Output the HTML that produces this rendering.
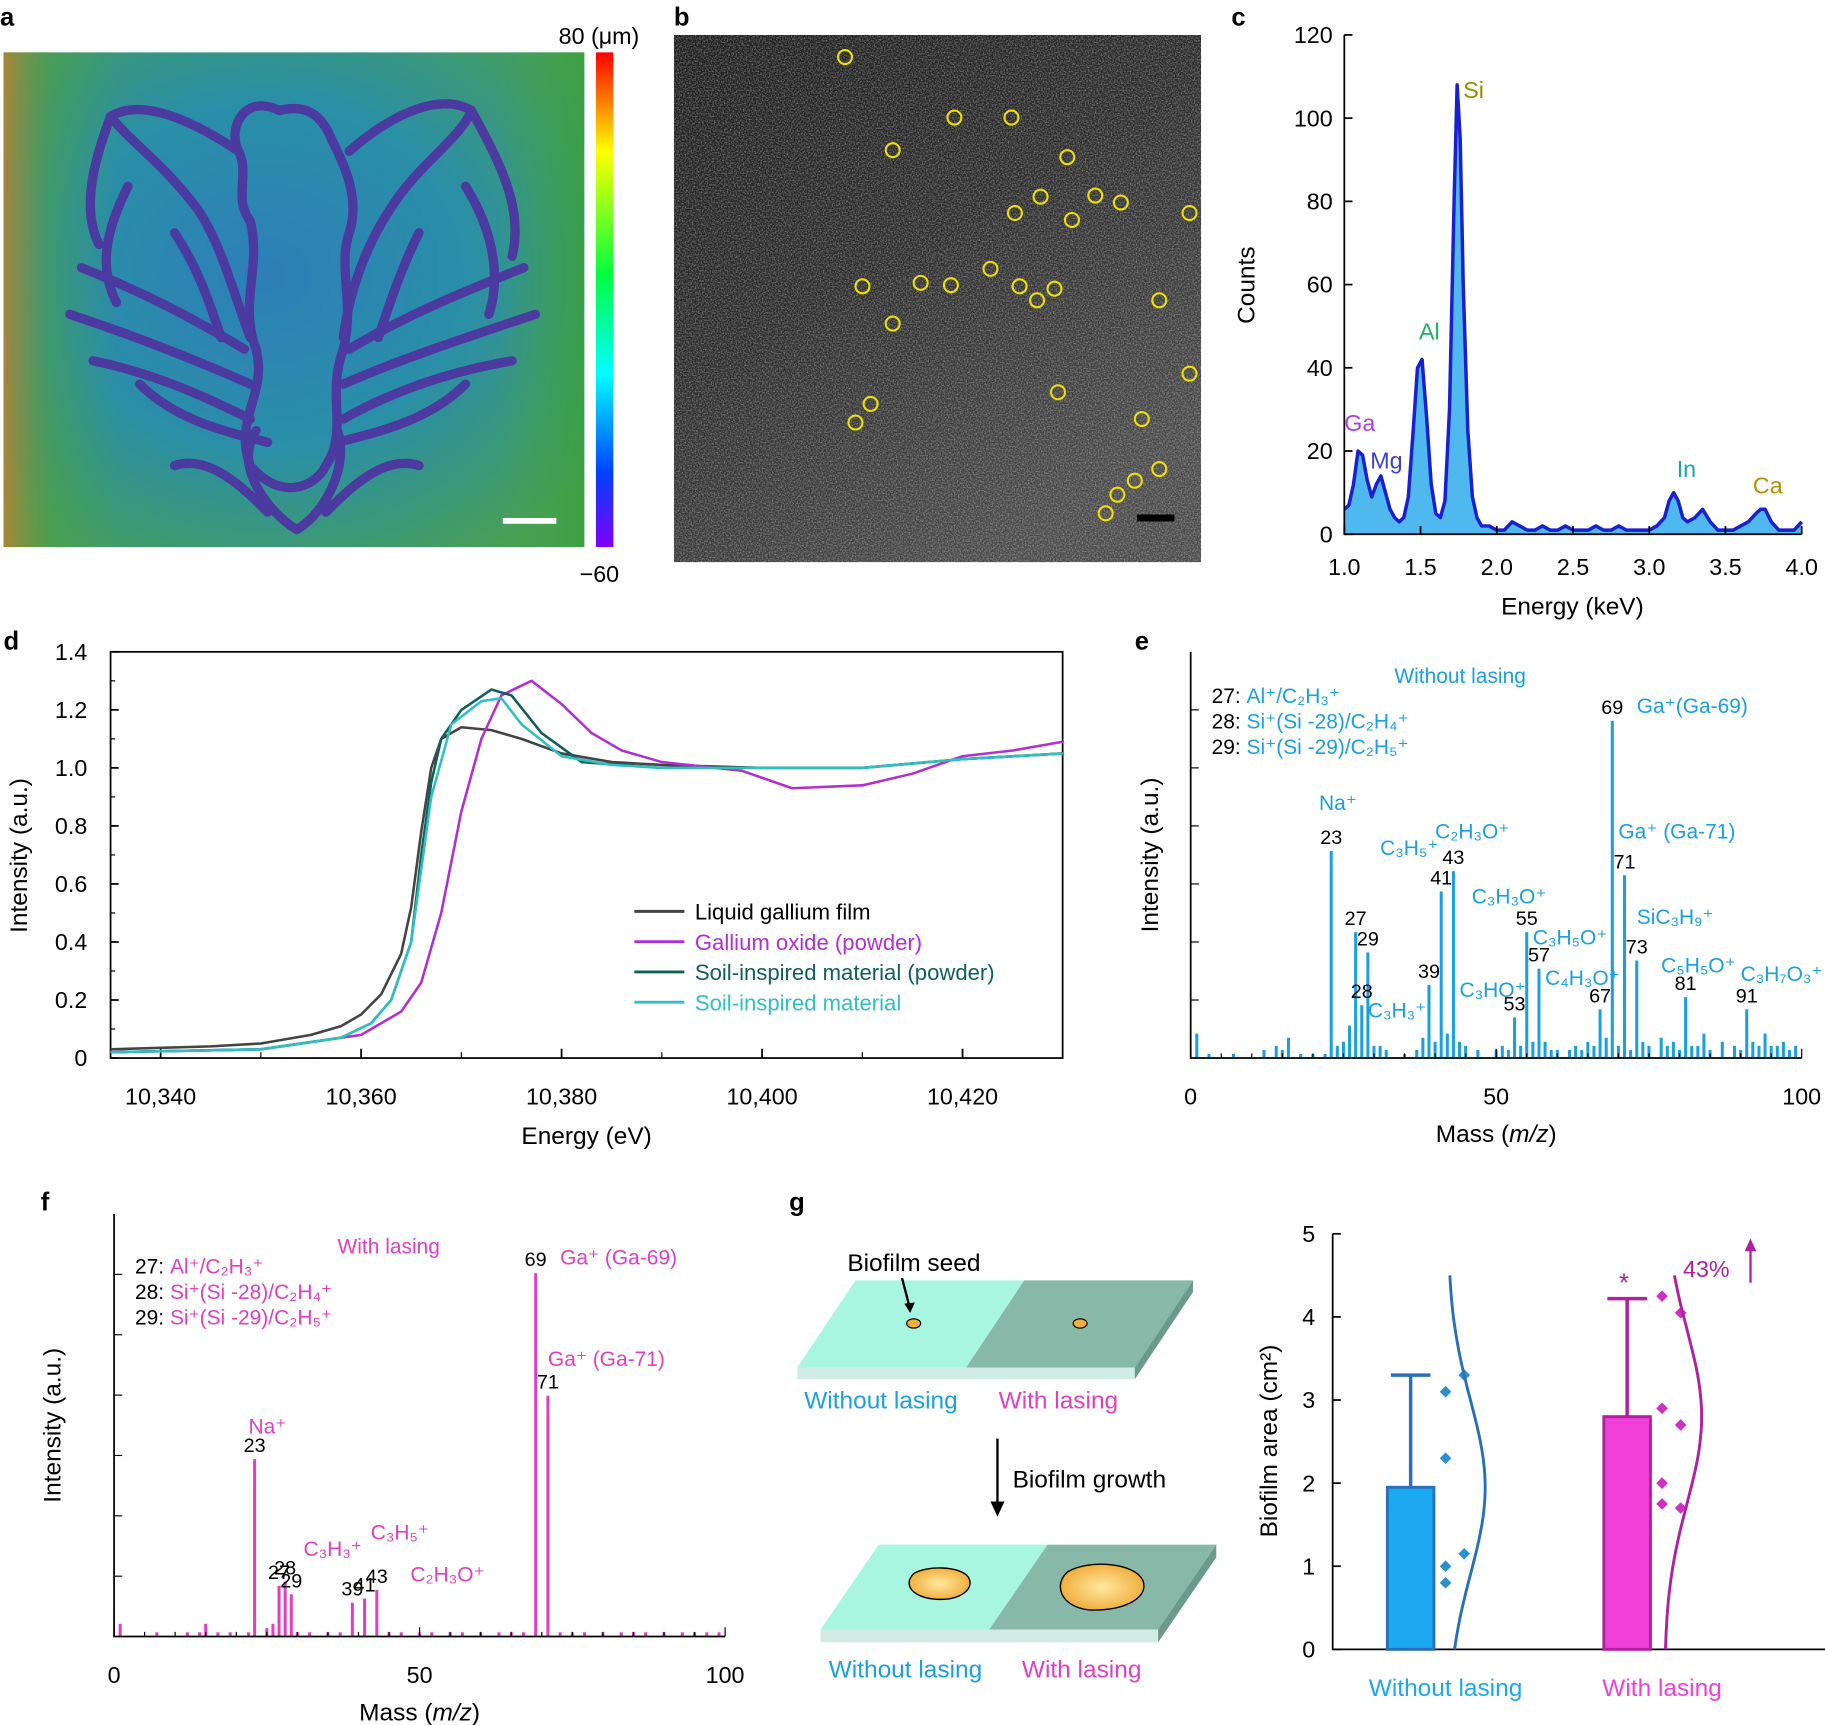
<!DOCTYPE html>
<html><head><meta charset="utf-8"><style>
html,body{margin:0;padding:0;background:#fff}
svg{display:block;font-family:"Liberation Sans",Arial,sans-serif}
</style></head><body>
<svg id="fig" width="1825" height="1725" viewBox="0 0 1568 1482" preserveAspectRatio="none" xmlns="http://www.w3.org/2000/svg">
<defs>
<linearGradient id="cbar" x1="0" y1="0" x2="0" y2="1">
<stop offset="0" stop-color="#ff0000"/><stop offset="0.2" stop-color="#ffff00"/><stop offset="0.45" stop-color="#00ff40"/><stop offset="0.65" stop-color="#00ffff"/><stop offset="0.85" stop-color="#0040ff"/><stop offset="1" stop-color="#8000ff"/>
</linearGradient>
<radialGradient id="ag" cx="0.45" cy="0.45" r="0.7">
<stop offset="0" stop-color="#2d7fb8"/><stop offset="0.5" stop-color="#2a8fa8"/><stop offset="1" stop-color="#4aa050"/>
</radialGradient>
<linearGradient id="ag2" x1="0" y1="0" x2="1" y2="0">
<stop offset="0" stop-color="#c08030" stop-opacity="0.8"/><stop offset="0.08" stop-color="#50a040" stop-opacity="0.5"/><stop offset="0.2" stop-color="#40a050" stop-opacity="0"/><stop offset="0.85" stop-color="#40a050" stop-opacity="0"/><stop offset="1" stop-color="#3aa040" stop-opacity="0.8"/>
</linearGradient>
<filter id="noise" x="0" y="0" width="1" height="1" filterUnits="objectBoundingBox"><feTurbulence type="fractalNoise" baseFrequency="0.8" numOctaves="2" seed="3"/><feColorMatrix type="matrix" values="0 0 0 0 0.75  0 0 0 0 0.75  0 0 0 0 0.75  0 0 0 1.6 -0.6"/></filter>
<linearGradient id="bg" x1="0" y1="0" x2="0.6" y2="1">
<stop offset="0" stop-color="#1c1c1c"/><stop offset="0.5" stop-color="#2c2c2c"/><stop offset="1" stop-color="#4a4a4a"/>
</linearGradient>
<clipPath id="bclip"><rect x="579" y="30" width="453" height="453"/></clipPath>
<radialGradient id="blob"><stop offset="0" stop-color="#ffe9a0"/><stop offset="1" stop-color="#f0b040"/></radialGradient>
</defs>
<g font-size="20" fill="#000">
<text x="0" y="22" font-weight="bold" font-size="22">a</text>
<text x="579" y="22" font-weight="bold" font-size="22">b</text>
<text x="1058" y="22" font-weight="bold" font-size="22">c</text>
<text x="3" y="558" font-weight="bold" font-size="22">d</text>
<text x="975" y="558" font-weight="bold" font-size="22">e</text>
<text x="35" y="1040" font-weight="bold" font-size="22">f</text>
<text x="678" y="1040" font-weight="bold" font-size="22">g</text>
</g>
<g>
<rect x="3" y="45" width="499" height="425" fill="url(#ag)"/>
<rect x="3" y="45" width="499" height="425" fill="url(#ag2)"/>
<g fill="none" stroke="#4b3aa0" stroke-width="8" stroke-linecap="round" stroke-linejoin="round">
<path d="M240 95 C210 80 195 110 205 130 C215 150 200 170 215 190 C225 230 205 260 220 300 C230 340 200 360 215 400 C240 430 270 420 280 400 C300 370 280 340 295 300 C305 260 290 230 300 200 C310 170 295 140 285 120 C275 95 260 90 240 95 Z"/>
<path d="M205 130 C160 100 120 85 95 100 C110 120 140 140 170 180 C190 210 200 250 215 290"/>
<path d="M300 130 C340 95 380 80 405 95 C395 120 360 140 335 180 C315 210 300 250 295 290"/>
<path d="M95 100 C80 140 70 180 85 210 M110 160 C90 200 85 230 100 260 M70 230 C120 250 160 270 210 300 M60 270 C120 290 170 310 215 330 M80 310 C130 320 175 340 215 360"/>
<path d="M405 95 C430 140 450 180 440 220 M400 160 C425 200 430 240 420 270 M450 230 C400 250 350 270 300 300 M460 270 C400 290 340 310 295 330 M440 310 C380 320 330 340 295 360"/>
<path d="M150 200 C170 230 180 260 190 290 M360 200 C345 230 335 260 325 290 M120 330 C150 360 190 370 230 380 M400 330 C370 360 330 370 290 380"/>
<path d="M150 400 C180 390 210 420 230 440 M360 400 C330 390 300 420 280 440 M220 370 C200 400 230 440 255 455 C280 440 300 400 290 370"/>
</g>
<rect x="432" y="445" width="46" height="5" fill="#fff"/>
<rect x="512" y="45" width="15" height="425" fill="url(#cbar)"/>
<text x="480" y="38" font-size="20">80 (μm)</text>
<text x="498" y="500" font-size="20">−60</text>
</g>
<g clip-path="url(#bclip)">
<rect x="579" y="30" width="453" height="453" fill="url(#bg)"/>
<rect x="579" y="30" width="453" height="453" filter="url(#noise)" opacity="0.6"/>
<rect x="977" y="442" width="32" height="6" fill="#000"/>
<g id="circles" fill="none" stroke="#f0e000" stroke-width="1.8"></g>
</g>
<g id="pc"></g>
<g id="pd"></g>
<g id="pe"></g>
<g id="pf"></g>
<g font-size="21">
<polygon points="685,1175 830,1175 880,1100 735,1100" fill="#a8f5e0"/>
<polygon points="830,1175 975,1175 1025,1100 880,1100" fill="#88b8a8"/>
<polygon points="685,1175 975,1175 975,1185 685,1185" fill="#d0ece4"/>
<polygon points="975,1175 1025,1100 1025,1110 975,1185" fill="#6a9a8a"/>
<ellipse cx="785" cy="1137" rx="6" ry="4" fill="#f0b040" stroke="#000" stroke-width="1"/>
<ellipse cx="928" cy="1137" rx="6" ry="4" fill="#f0b040" stroke="#000" stroke-width="1"/>
<text x="728" y="1092">Biofilm seed</text>
<path d="M775 1098 L782 1125" stroke="#000" stroke-width="2"/><path d="M777 1120 L782 1128 L786 1119" fill="#000"/>
<text x="691" y="1210" fill="#1aa0e0">Without lasing</text>
<text x="858" y="1210" fill="#e040c0">With lasing</text>
<path d="M857 1236 L857 1295" stroke="#000" stroke-width="2"/><path d="M851 1290 L857 1303 L863 1290Z" fill="#000"/>
<text x="870" y="1278">Biofilm growth</text>
<polygon points="705,1400 850,1400 900,1327 755,1327" fill="#a8f5e0"/>
<polygon points="850,1400 995,1400 1045,1327 900,1327" fill="#88b8a8"/>
<polygon points="705,1400 995,1400 995,1411 705,1411" fill="#d0ece4"/>
<polygon points="995,1400 1045,1327 1045,1338 995,1411" fill="#6a9a8a"/>
<path d="M785 1352 C795 1345 825 1345 832 1355 C838 1365 825 1375 805 1374 C785 1373 775 1362 785 1352Z" fill="url(#blob)" stroke="#000" stroke-width="1.2"/>
<path d="M918 1350 C935 1340 975 1342 982 1358 C988 1375 960 1385 935 1383 C910 1380 905 1360 918 1350Z" fill="url(#blob)" stroke="#000" stroke-width="1.2"/>
<text x="712" y="1441" fill="#1aa0e0">Without lasing</text>
<text x="878" y="1441" fill="#e040c0">With lasing</text>
</g>
<g id="pg"></g>
</svg>
<script>
const NS="http://www.w3.org/2000/svg";
function mk(p,t,a,txt){const e=document.createElementNS(NS,t);for(const k in a)e.setAttribute(k,a[k]);if(txt!==undefined)e.textContent=txt;p.appendChild(e);return e;}

const circX=[726,820,869,767,917,894,941,963,872,921,1022,851,791,817,741,876,906,891,996,767,1022,909,748,735,981,996,975,960,950];
const circY=[49,101,101,129,135,169,168,174,183,189,183,231,243,245,246,246,248,258,258,278,321,337,347,363,360,403,413,425,441];
const cg=document.getElementById('circles');
circX.forEach((x,i)=>{const c=mk(cg,'circle',{cx:x,cy:circY[i],r:6});

});

const cEnergy=[1.00,1.03,1.06,1.09,1.12,1.15,1.18,1.21,1.24,1.27,1.30,1.33,1.36,1.39,1.42,1.45,1.48,1.51,1.54,1.57,1.60,1.63,1.66,1.69,1.72,1.74,1.76,1.78,1.81,1.84,1.87,1.90,1.95,2.00,2.05,2.10,2.15,2.20,2.25,2.30,2.35,2.40,2.45,2.50,2.55,2.60,2.65,2.70,2.75,2.80,2.85,2.90,2.95,3.00,3.05,3.10,3.13,3.16,3.19,3.22,3.25,3.30,3.35,3.40,3.45,3.50,3.55,3.60,3.65,3.70,3.73,3.76,3.80,3.85,3.90,3.95,4.00];
const cCounts=[6,7,12,20,19,13,9,12,14,10,6,4,3,4,9,24,40,42,28,12,5,4,8,30,80,108,95,60,25,9,4,2,2,1,1,3,2,1,1,2,1,1,2,1,1,1,2,1,1,2,1,1,1,1,2,4,8,10,8,4,3,4,6,3,1,1,1,2,3,5,6,6,3,1,1,1,3];
const cPeaks=[["Ga",1.0,22,"#b040d0"],["Mg",1.17,13,"#4040d0"],["Al",1.49,44,"#20b060"],["Si",1.78,102,"#909000"],["In",3.18,11,"#20a0b0"],["Ca",3.68,7,"#b09000"]];
const cXT=[1.0,1.5,2.0,2.5,3.0,3.5,4.0], cYT=[0,20,40,60,80,100,120];
(function(){
const g=document.getElementById('pc');
const X=v=>1155+(v-1)*(1548-1155)/3, Y=v=>459-v*(459-30)/120;
let area='M'+X(cEnergy[0])+' '+Y(0);
cEnergy.forEach((e,i)=>area+=' L'+X(e)+' '+Y(cCounts[i]));
area+=' L'+X(4)+' '+Y(0)+'Z';
const a=mk(g,'path',{d:area,fill:'#4fb8ee'});


let ln='';cEnergy.forEach((e,i)=>ln+=(i?' L':'M')+X(e)+' '+Y(cCounts[i]));
const l=mk(g,'path',{d:ln,fill:'none',stroke:'#1a20d0','stroke-width':3,'stroke-linejoin':'round'});


mk(g,'path',{d:`M${X(1)} 30 L${X(1)} 459 L${X(4)} 459`,fill:'none',stroke:'#000','stroke-width':1.5});
cYT.forEach(v=>{mk(g,'line',{x1:X(1),x2:X(1)+7,y1:Y(v),y2:Y(v),stroke:'#000','stroke-width':1.5});
const t=mk(g,'text',{x:X(1)-10,y:Y(v)+7,'text-anchor':'end','font-size':20},v);

});
cXT.forEach(v=>{mk(g,'line',{x1:X(v),x2:X(v),y1:459,y2:452,stroke:'#000','stroke-width':1.5});
const t=mk(g,'text',{x:X(v),y:494,'text-anchor':'middle','font-size':20},v.toFixed(1));

});
cPeaks.forEach(p=>{const t=mk(g,'text',{x:X(p[1]),y:Y(p[2])-10,'font-size':20,fill:p[3]},p[0]);

});
const yt=mk(g,'text',{x:1078,y:245,'text-anchor':'middle','font-size':21,transform:'rotate(-90 1078 245)'},'Counts');


const xt=mk(g,'text',{x:1351,y:528,'text-anchor':'middle','font-size':21},'Energy (keV)');


})();

const dLiquidE=[10335,10345,10350,10355,10358,10360,10362,10364,10365,10366,10367,10368,10370,10373,10376,10380,10385,10390,10400,10410,10420,10430];
const dLiquidI=[0.03,0.04,0.05,0.08,0.11,0.15,0.22,0.36,0.52,0.78,1.0,1.1,1.14,1.13,1.10,1.05,1.02,1.01,1.0,1.0,1.03,1.05];
const dOxideE=[10335,10350,10360,10364,10366,10368,10370,10372,10374,10377,10380,10383,10386,10390,10398,10403,10410,10415,10420,10425,10430];
const dOxideI=[0.02,0.03,0.08,0.16,0.26,0.5,0.85,1.1,1.25,1.30,1.22,1.12,1.06,1.02,0.99,0.93,0.94,0.98,1.04,1.06,1.09];
const dPowderE=[10335,10350,10358,10361,10363,10365,10366,10367,10368,10370,10373,10375,10378,10382,10390,10400,10410,10420,10430];
const dPowderI=[0.02,0.03,0.07,0.12,0.2,0.4,0.7,0.95,1.1,1.2,1.27,1.25,1.12,1.02,1.0,1.0,1.0,1.03,1.05];
const dSoilE=[10335,10350,10358,10361,10363,10365,10366,10367,10369,10372,10374,10376,10380,10385,10390,10400,10410,10420,10430];
const dSoilI=[0.02,0.03,0.07,0.12,0.2,0.4,0.65,0.9,1.15,1.23,1.24,1.15,1.04,1.01,1.0,1.0,1.0,1.03,1.05];
const dNames=["Liquid gallium film","Gallium oxide (powder)","Soil-inspired material (powder)","Soil-inspired material"];
const dXT=[10340,10360,10380,10400,10420], dYT=[0,0.2,0.4,0.6,0.8,1.0,1.2,1.4];
(function(){
const g=document.getElementById('pd');
const X=v=>138+(v-10340)*(827-138)/80, Y=v=>909-v*(909-560)/1.4;
mk(g,'rect',{x:95,y:560,width:818,height:349,fill:'none',stroke:'#000','stroke-width':1.5});
dYT.forEach(v=>{mk(g,'line',{x1:95,x2:102,y1:Y(v),y2:Y(v),stroke:'#000','stroke-width':1.5});
if(v<1.35)mk(g,'line',{x1:95,x2:99,y1:Y(v+0.1),y2:Y(v+0.1),stroke:'#000'});
const t=mk(g,'text',{x:75,y:Y(v)+7,'text-anchor':'end','font-size':20},v===0?'0':v.toFixed(1));

});
dXT.forEach(v=>{mk(g,'line',{x1:X(v),x2:X(v),y1:909,y2:901,stroke:'#000','stroke-width':1.5});
mk(g,'line',{x1:X(v+10),x2:X(v+10),y1:909,y2:904,stroke:'#000'});
const t=mk(g,'text',{x:X(v),y:949,'text-anchor':'middle','font-size':20},v.toLocaleString('en-US'));

});
const series=[[dLiquidE,dLiquidI,'#444444'],[dOxideE,dOxideI,'#b030d0'],[dPowderE,dPowderI,'#10605a'],[dSoilE,dSoilI,'#30c0c0']];
series.forEach((s,k)=>{let d='';s[0].forEach((e,i)=>d+=(i?' L':'M')+X(e).toFixed(1)+' '+Y(s[1][i]).toFixed(1));
const p=mk(g,'path',{d:d,fill:'none',stroke:s[2],'stroke-width':2.2,'stroke-linejoin':'round'});


const ly=783+k*26;
mk(g,'line',{x1:545,x2:588,y1:ly,y2:ly,stroke:s[2],'stroke-width':2.5});
const t=mk(g,'text',{x:597,y:ly+7,'font-size':19,fill:k===0?'#000':s[2]},dNames[k]);

});
const yt=mk(g,'text',{x:23,y:735,'text-anchor':'middle','font-size':21,transform:'rotate(-90 23 735)'},'Intensity (a.u.)');


const xt=mk(g,'text',{x:504,y:983,'text-anchor':'middle','font-size':21},'Energy (eV)');


})();

const eMass=[1,3,7,12,14,15,16,18,20,22,23,24,25,26,27,28,29,30,31,32,35,37,38,39,40,41,42,43,44,45,47,50,51,52,53,54,55,56,57,58,59,60,62,63,64,65,66,67,68,69,70,71,72,73,74,75,77,78,79,80,81,82,83,84,85,87,89,90,91,92,93,94,95,96,97,98,99];
const eInt=[6,1,1,2,3,2,5,1,1,1,51,3,4,8,31,13,26,3,3,2,1,2,5,18,4,41,6,46,4,3,2,2,3,2,10,3,31,4,22,4,2,2,2,3,2,4,3,12,5,83,3,45,2,24,4,3,5,3,4,2,15,3,3,6,2,4,3,2,12,4,3,6,3,3,4,2,3];
const fMass=[1,7,12,14,15,17,19,22,23,25,26,27,28,29,30,32,35,37,39,41,43,45,47,50,52,55,57,60,63,65,67,69,71,73,75,77,80,83,85,87,90,93,95,97,99];
const fInt=[3,1,1,1,3,1,1,1,42,2,3,12,13,10,1,1,1,1,8,9,11,1,1,1,1,1,1,1,1,1,1,86,57,1,1,1,1,1,1,1,1,1,1,1,1];
const mXT=[0,50,100];
const eLabels=[["Na⁺",21,61,'#1aa0e0'],["C₃H₅⁺",31,50,'#1aa0e0'],["C₂H₃O⁺",40,54,'#1aa0e0'],["C₃H₃O⁺",46,38,'#1aa0e0'],["C₃H₅O⁺",56,28,'#1aa0e0'],["C₃HO⁺",44,15,'#1aa0e0'],["C₄H₃O⁺",58,18,'#1aa0e0'],["C₃H₃⁺",29,10,'#1aa0e0'],["Ga⁺(Ga-69)",73,85,'#1aa0e0'],["Ga⁺ (Ga-71)",70,54,'#1aa0e0'],["SiC₃H₉⁺",73,33,'#1aa0e0'],["C₅H₅O⁺",77,21,'#1aa0e0'],["C₃H₇O₃⁺",90,19,'#1aa0e0']];
const fLabels=[["Na⁺",22,48,'#e040c0'],["C₃H₃⁺",31,19,'#e040c0'],["C₃H₅⁺",42,23,'#e040c0'],["C₂H₃O⁺",48.5,13,'#e040c0'],["Ga⁺ (Ga-69)",73,88,'#e040c0'],["Ga⁺ (Ga-71)",71,64,'#e040c0']];
function msPanel(id,x0,x1,yb,yt,mass,inten,col,labels,numbered,title,legendY,titleX,axisTitleX){
const g=document.getElementById(id);
const X=v=>x0+v*(x1-x0)/100, Y=v=>yb-v*(yb-yt)/100;
mass.forEach((m,i)=>{const b=mk(g,'rect',{x:X(m)-1.3,y:Y(inten[i]),width:2.6,height:yb-Y(inten[i]),fill:col});

});
mk(g,'path',{d:`M${x0} ${yt} L${x0} ${yb} L${x1} ${yb}`,fill:'none',stroke:'#000','stroke-width':1.5});
for(let k=0;k<=100;k+=5)mk(g,'line',{x1:X(k),x2:X(k),y1:yb,y2:yb-(k%50?4:8),stroke:'#000'});
for(let k=1;k<=6;k++)mk(g,'line',{x1:x0,x2:x0+7,y1:yb-k*(yb-yt)/7,y2:yb-k*(yb-yt)/7,stroke:'#000'});
mXT.forEach(v=>{const t=mk(g,'text',{x:X(v),y:yb+40,'text-anchor':'middle','font-size':20},v);

});
mass.forEach((m,i)=>{if(numbered.includes(m)){const t=mk(g,'text',{x:X(m),y:Y(inten[i])-6,'text-anchor':'middle','font-size':17},m);

}});
labels.forEach(l=>{const t=mk(g,'text',{x:X(l[1]),y:Y(l[2]),'font-size':18,fill:l[3]},l[0]);

});
const lg=["27: Al⁺/C₂H₃⁺","28: Si⁺(Si -28)/C₂H₄⁺","29: Si⁺(Si -29)/C₂H₅⁺"];
lg.forEach((s,k)=>{const t=mk(g,'text',{x:x0+18,y:legendY+k*22,'font-size':18});
mk(t,'tspan',{},s.slice(0,4));mk(t,'tspan',{fill:col},s.slice(4));

});
const tt=mk(g,'text',{x:titleX,y:legendY-17,'font-size':18,fill:col},title);


const ymid=(yb+yt)/2;
const ya=mk(g,'text',{x:axisTitleX,y:ymid,'text-anchor':'middle','font-size':21,transform:`rotate(-90 ${axisTitleX} ${ymid})`},'Intensity (a.u.)');


const xa=mk(g,'text',{x:(x0+x1)/2,y:yb+72,'text-anchor':'middle','font-size':21});
mk(xa,'tspan',{},'Mass (');mk(xa,'tspan',{'font-style':'italic'},'m/z');mk(xa,'tspan',{},')');


}
msPanel('pe',1023,1548,909,560,eMass,eInt,'#1aa0e0',eLabels,[23,27,28,29,39,41,43,53,55,57,67,69,71,73,81,91],'Without lasing',604,1198,995);
msPanel('pf',98,623,1406,1043,fMass,fInt,'#e040c0',fLabels,[23,27,28,29,39,41,43,69,71],'With lasing',1094,290,52);

const gGroups=["Without lasing","With lasing"];
const gMeans=[1.95,2.8];
const gErr=[3.3,4.22];
const gPtsA=[3.1,2.3,1.0,0.8,3.3,1.15];
const gPtsB=[4.25,2.9,2.0,1.75,4.05,2.7,1.7];
const gYT=[0,1,2,3,4,5];
(function(){
const g=document.getElementById('pg');
const Y=v=>1417-v*(1417-1060)/5;
const cols=['#1aa8f0','#f040d8'], edge=['#2a70b8','#b020a0'];
const cx=[1212,1398];
mk(g,'path',{d:`M1145 1060 L1145 1417 L1568 1417`,fill:'none',stroke:'#000','stroke-width':1.5});
gYT.forEach(v=>{mk(g,'line',{x1:1145,x2:1152,y1:Y(v),y2:Y(v),stroke:'#000','stroke-width':1.5});
const t=mk(g,'text',{x:1130,y:Y(v)+7,'text-anchor':'end','font-size':20},v);

});
[gPtsA,gPtsB].forEach((pts,k)=>{
mk(g,'line',{x1:cx[k],x2:cx[k],y1:Y(gErr[k]),y2:Y(gMeans[k]),stroke:edge[k],'stroke-width':3});
mk(g,'line',{x1:cx[k]-17,x2:cx[k]+17,y1:Y(gErr[k]),y2:Y(gErr[k]),stroke:edge[k],'stroke-width':3});
const b=mk(g,'rect',{x:cx[k]-20,y:Y(gMeans[k]),width:40,height:1417-Y(gMeans[k]),fill:cols[k],stroke:edge[k],'stroke-width':2.5});


pts.forEach((p,i)=>{const px=cx[k]+30+(i>=4?16:0),py=Y(p);
const d=mk(g,'path',{d:`M${px} ${py-5} L${px+5} ${py} L${px} ${py+5} L${px-5} ${py}Z`,fill:k?'#d030c0':'#2a90d0'});

});
const m=gMeans[k], bx=cx[k]+32;
let dpath='';for(let v=0;v<=4.5;v+=0.1){const w=32*Math.exp(-((v-m)*(v-m))/2.2);dpath+=(v?' L':'M')+(bx+w).toFixed(1)+' '+Y(v).toFixed(1);}
const c=mk(g,'path',{d:dpath,fill:'none',stroke:edge[k],'stroke-width':2.5});


const t=mk(g,'text',{x:cx[k]+30,y:1457,'text-anchor':'middle','font-size':21,fill:cols[k]},gGroups[k]);


});
const s=mk(g,'text',{x:1391,y:Y(4.22)-6,'font-size':22,fill:'#b020a0'},'*');


const p=mk(g,'text',{x:1446,y:1097,'font-size':20,fill:'#b020a0'},'43%');


mk(g,'line',{x1:1504,x2:1504,y1:1102,y2:1070,stroke:'#b020a0','stroke-width':2});
mk(g,'path',{d:'M1499 1075 L1504 1064 L1509 1075Z',fill:'#b020a0'});
const ya=mk(g,'text',{x:1097,y:1238,'text-anchor':'middle','font-size':21,transform:'rotate(-90 1097 1238)'},'Biofilm area (cm²)');


})();
</script>
</body></html>
